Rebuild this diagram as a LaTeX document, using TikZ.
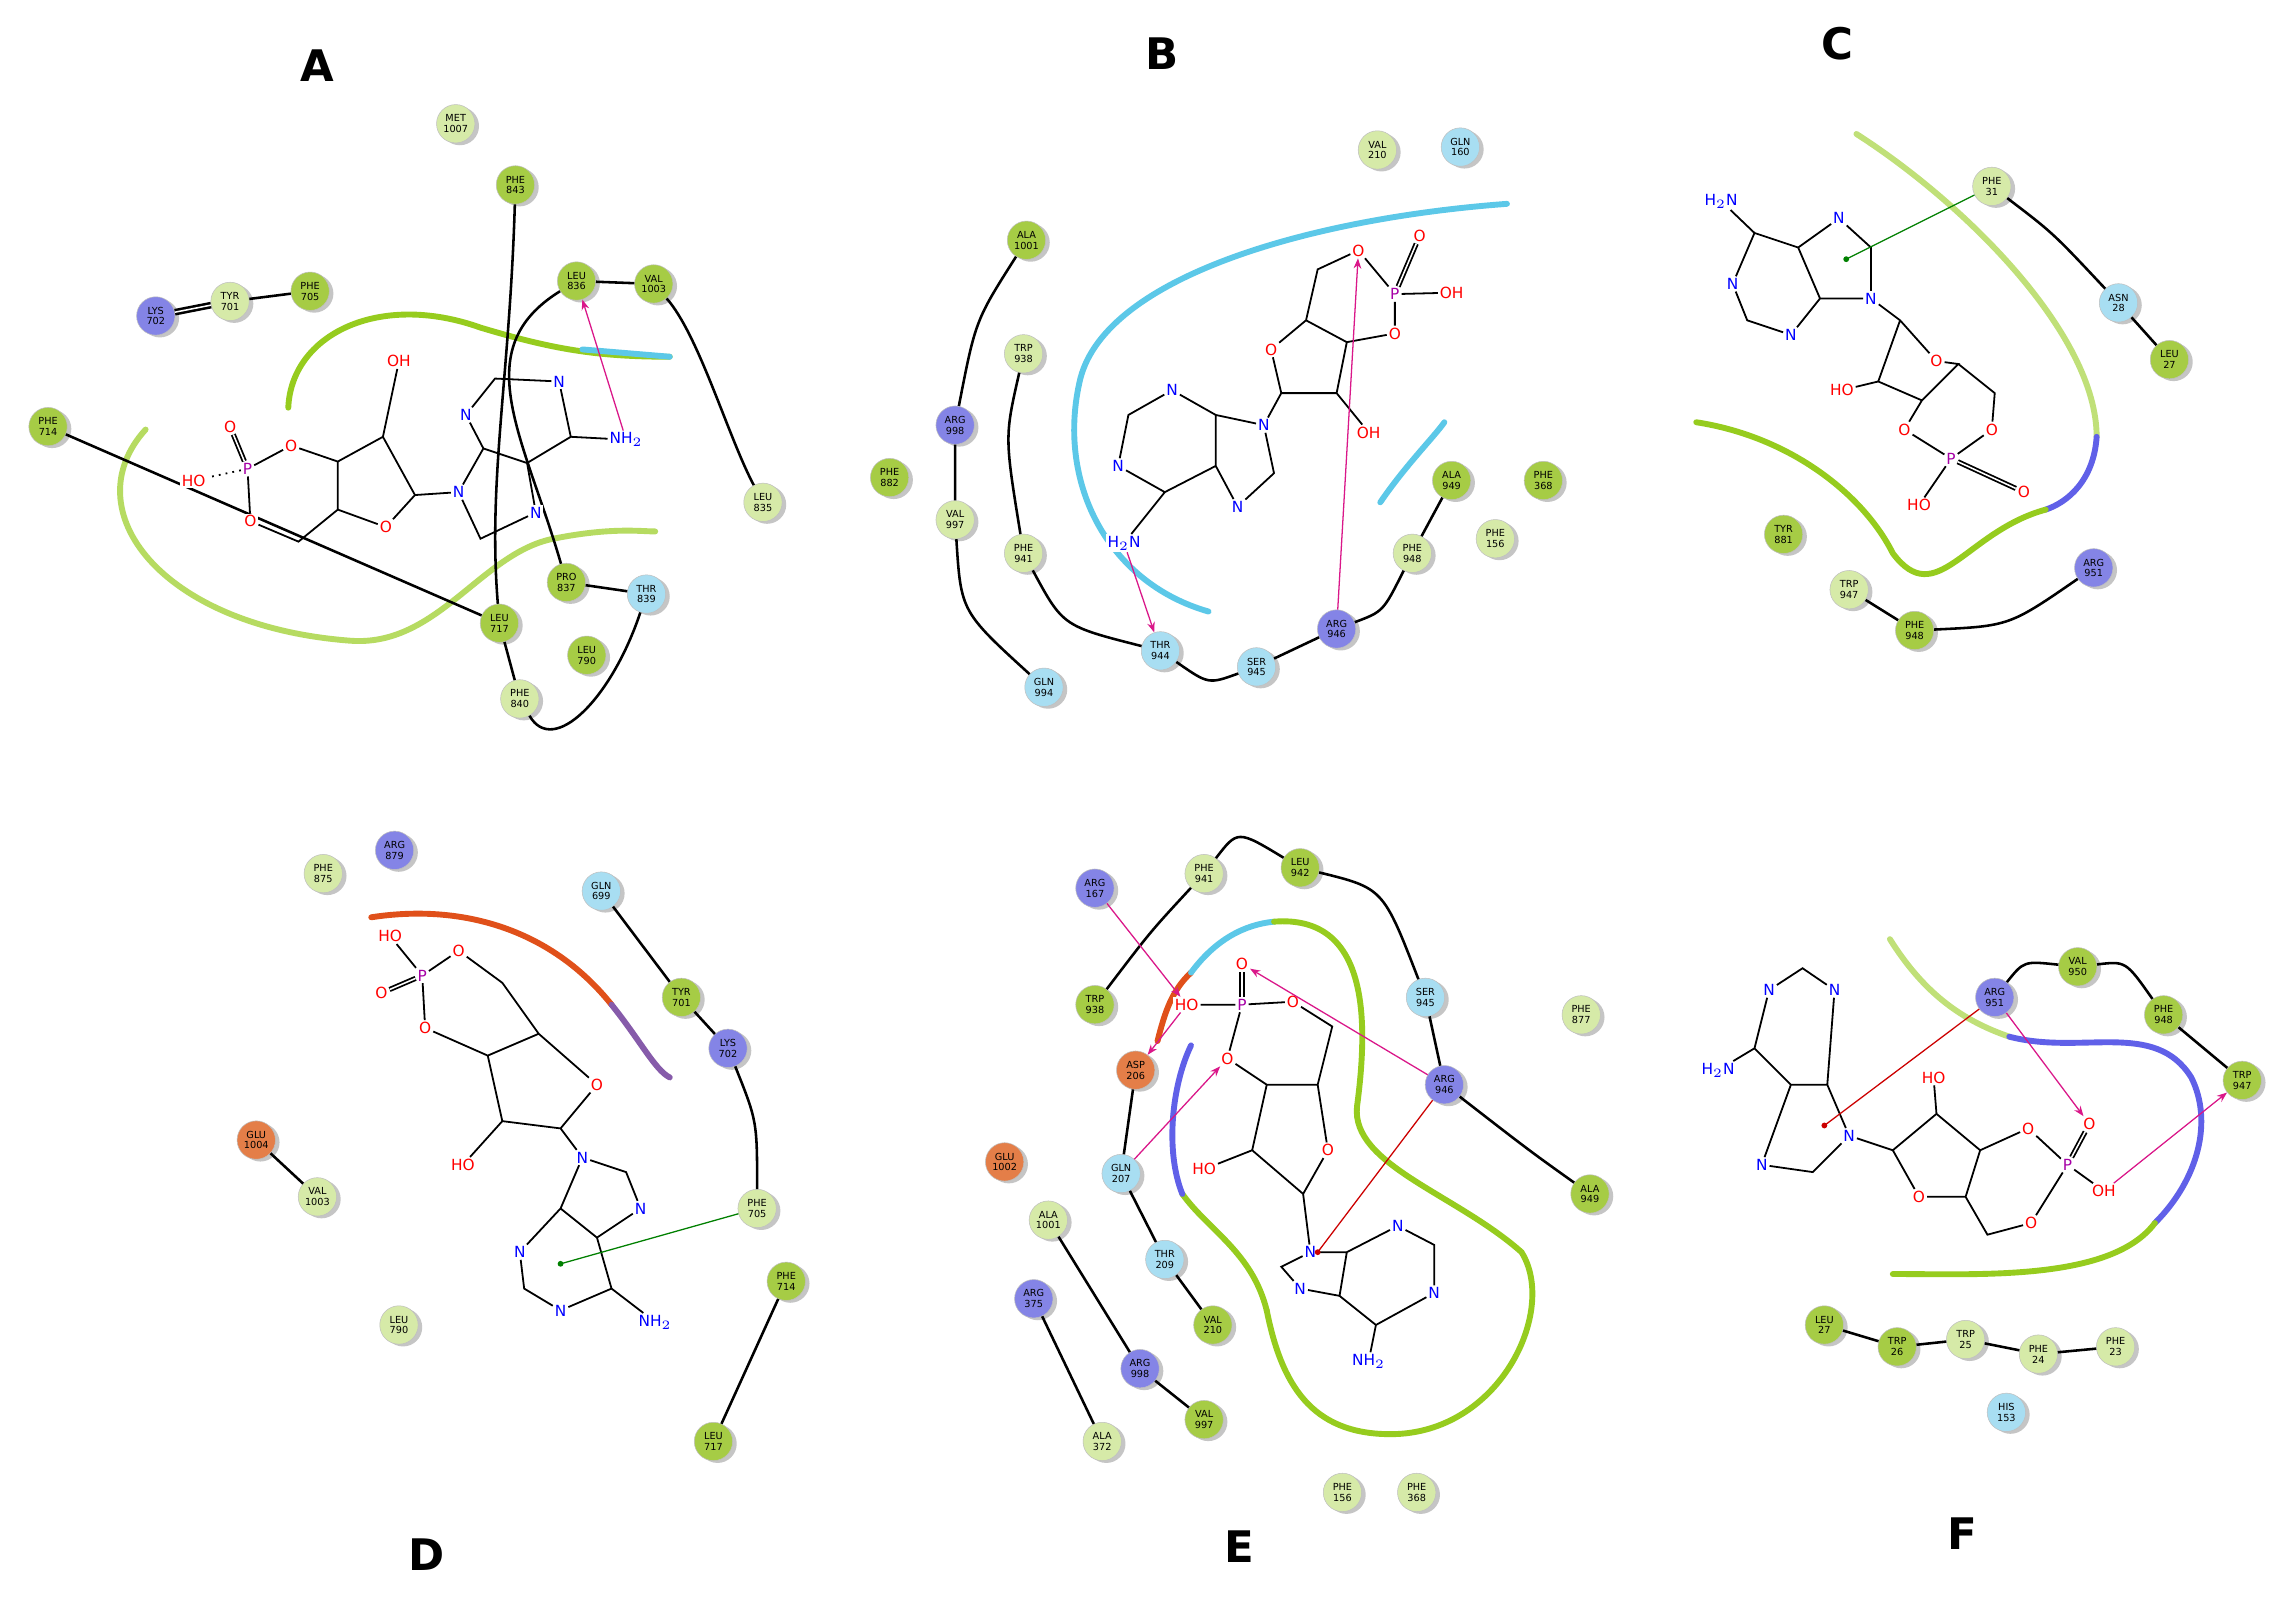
\documentclass[tikz,border=0pt]{standalone}
\usepackage{fontspec}
\setsansfont{DejaVu Sans}
\usetikzlibrary{shadows,arrows.meta}
\definecolor{hyd}{HTML}{A6CC45}
\definecolor{hydl}{HTML}{D6EAA8}
\definecolor{pos}{HTML}{8484E6}
\definecolor{pol}{HTML}{A8DEF2}
\definecolor{neg}{HTML}{E47E48}
\definecolor{lgreen}{HTML}{96CC1E}
\definecolor{lcyan}{HTML}{5CC8E8}
\definecolor{lblue}{HTML}{6060E8}
\definecolor{lorange}{HTML}{E0501A}
\newcommand\rs[5]{\node[res,fill=#3] (#1) at (#2) {#4\\#5};}
\tikzset{
 res/.style={circle,minimum size=15pt,inner sep=0pt,align=center,draw=black!25,line width=0.2pt,
   font=\sffamily\fontsize{3.8}{4.2}\selectfont,
   drop shadow={shadow xshift=1.6pt,shadow yshift=-0.9pt,fill=black!45}},
 chain/.style={line width=1pt,black},
 bond/.style={line width=0.7pt,black},
 atom/.style={font=\sffamily\fontsize{6}{6}\selectfont,inner sep=0.6pt,fill=white},
 red/.style={atom,text=red}, blue/.style={atom,text=blue}, violet/.style={atom,text=violet!70!magenta},
 panel/.style={font=\sffamily\bfseries\fontsize{17}{17}\selectfont},
 hb/.style={-{Stealth[length=4pt]},draw=magenta!80!violet,line width=0.5pt},
 pist/.style={draw=green!50!black,line width=0.5pt},
 cat/.style={draw=red!80!black,line width=0.5pt},
 pock/.style={line width=2.3pt,line cap=round},
}
\begin{document}
\begin{tikzpicture}[x=0.2mm,y=-0.2mm]
\fill[white] (0,0) rectangle (1568,1104);
\useasboundingbox (0,0) rectangle (1568,1104);
% ================= A =================
\node[panel] (lA) at (218,45) {A};
\draw[pock,lgreen] (198,280) .. controls (200,230) and (260,200) .. (330,225) .. controls (380,240) and (410,245) .. (460,245);
\draw[pock,lcyan] (400,240) -- (460,245);
\draw[pock,lgreen!70] (100,295) .. controls (50,350) and (110,430) .. (240,440) .. controls (300,445) and (330,380) .. (380,370) .. controls (420,362) and (440,365) .. (450,365);
\rs{a1}{313,85}{hydl}{MET}{1007}
\rs{a2}{354,127}{hyd}{PHE}{843}
\rs{a3}{107,217}{pos}{LYS}{702}
\rs{a4}{158,207}{hydl}{TYR}{701}
\rs{a5}{213,200}{hyd}{PHE}{705}
\rs{a6}{396,193}{hyd}{LEU}{836}
\rs{a7}{449,195}{hyd}{VAL}{1003}
\rs{a8}{33,293}{hyd}{PHE}{714}
\rs{a9}{524,345}{hydl}{LEU}{835}
\rs{a10}{389,400}{hyd}{PRO}{837}
\rs{a11}{444,408}{pol}{THR}{839}
\rs{a12}{343,428}{hyd}{LEU}{717}
\rs{a13}{403,450}{hyd}{LEU}{790}
\rs{a14}{357,480}{hydl}{PHE}{840}
\draw[chain,double] (a3) -- (a4);
\draw[chain] (a4) -- (a5);
\draw[chain] (a8) -- (a12);
\draw[chain] (a2) .. controls (350,260) and (335,330) .. (a12);
\draw[chain] (a12) -- (a14);
\draw[chain] (a14) .. controls (380,520) and (420,480) .. (a11);
\draw[chain] (a10) -- (a11);
\draw[chain] (a10) .. controls (360,300) and (320,240) .. (a6);
\draw[chain] (a6) -- (a7);
\draw[chain] (a7) .. controls (480,230) and (500,300) .. (a9);
% molecule A
\node[violet] (aP) at (170,322) {P};
\node[red] (aO1) at (158,293) {O};
\node[red] (aHO) at (133,330) {HO};
\node[red] (aO2) at (200,306) {O};
\node[red] (aO3) at (172,358) {O};
\node[red] (aOH) at (274,248) {OH};
\node[red] (aO4) at (265,362) {O};
\node[blue] (aN9) at (315,338) {N};
\node[blue] (aN3) at (320,285) {N};
\node[blue] (aN1) at (384,262) {N};
\node[blue] (aN7) at (368,352) {N};
\node[blue] (aNH) at (430,302) {NH$_2$};
\coordinate (ac3) at (232,317); \coordinate (ac2) at (263,300);
\coordinate (ac1) at (285,340); \coordinate (ac4) at (232,350);
\coordinate (ac5) at (205,372); \coordinate (ac2b) at (340,260);
\coordinate (ac6) at (392,300); \coordinate (ac5b) at (362,318);
\coordinate (ac4b) at (332,308); \coordinate (ac8) at (330,370);
\draw[bond] (aP)--(aO2) (aP)--(aO3) (aO2)--(ac3) (ac3)--(ac2)--(ac1)--(aO4)--(ac4)--(ac3) (ac2)--(aOH)
 (ac1)--(aN9) (ac4)--(ac5)--(aO3) (aN9)--(ac4b)--(aN3)--(ac2b)--(aN1)--(ac6)--(ac5b)--(ac4b) (ac6)--(aNH)
 (ac5b)--(aN7)--(ac8)--(aN9);
\draw[bond,double] (aP)--(aO1);
\draw[bond,dotted] (aP)--(aHO);
\draw[hb] (aNH) -- (a6);
% ================= B =================
\node[panel] (lB) at (798,37) {B};
\draw[pock,lcyan] (1035,140) .. controls (900,150) and (760,190) .. (742,260) .. controls (725,330) and (760,400) .. (830,420);
\draw[pock,lcyan] (948,345) .. controls (965,320) and (985,300) .. (992,290);
\rs{b1}{946,103}{hydl}{VAL}{210}
\rs{b2}{1003,101}{pol}{GLN}{160}
\rs{b3}{705,165}{hyd}{ALA}{1001}
\rs{b4}{703,243}{hydl}{TRP}{938}
\rs{b5}{656,292}{pos}{ARG}{998}
\rs{b6}{611,328}{hyd}{PHE}{882}
\rs{b7}{656,357}{hydl}{VAL}{997}
\rs{b8}{703,380}{hydl}{PHE}{941}
\rs{b9}{797,447}{pol}{THR}{944}
\rs{b10}{863,458}{pol}{SER}{945}
\rs{b11}{918,432}{pos}{ARG}{946}
\rs{b12}{970,380}{hydl}{PHE}{948}
\rs{b13}{997,330}{hyd}{ALA}{949}
\rs{b14}{1060,330}{hyd}{PHE}{368}
\rs{b15}{1027,370}{hydl}{PHE}{156}
\rs{b16}{717,472}{pol}{GLN}{994}
\draw[chain] (b3) .. controls (670,220) .. (b5) -- (b7) .. controls (660,420) .. (b16);
\draw[chain] (b4) .. controls (690,300) .. (b8) .. controls (730,430) .. (b9) .. controls (830,470) .. (b10) -- (b11) .. controls (950,420) .. (b12) -- (b13);
% molecule B
\node[violet] (bP) at (958,202) {P};
\node[red] (bO1) at (975,162) {O};
\node[red] (bOH) at (997,201) {OH};
\node[red] (bO2) at (958,229) {O};
\node[red] (bO3) at (933,172) {O};
\node[red] (bO4) at (873,240) {O};
\node[red] (bOH2) at (940,297) {OH};
\node[blue] (bN9) at (868,292) {N};
\node[blue] (bN3) at (805,268) {N};
\node[blue] (bN1) at (768,320) {N};
\node[blue] (bN7) at (850,348) {N};
\node[blue] (bNH) at (772,373) {H$_2$N};
\coordinate (bc5) at (905,185); \coordinate (bc4) at (897,220); \coordinate (bc3) at (925,235);
\coordinate (bc2) at (918,270); \coordinate (bc1) at (880,270);
\coordinate (bc4b) at (835,285); \coordinate (bc5b) at (835,320); \coordinate (bc2b) at (775,285);
\coordinate (bc6) at (800,338); \coordinate (bc8) at (875,325);
\draw[bond] (bO3)--(bc5)--(bc4)--(bc3)--(bO2)--(bP)--(bO3) (bc4)--(bO4)--(bc1)--(bc2)--(bc3) (bc2)--(bOH2) (bc1)--(bN9)
 (bP)--(bOH) (bN9)--(bc4b)--(bN3)--(bc2b)--(bN1)--(bc6)--(bc5b)--(bc4b) (bc5b)--(bN7)--(bc8)--(bN9) (bc6)--(bNH);
\draw[bond,double] (bP)--(bO1);
\draw[hb] (bNH) -- (b9);
\draw[hb] (b11) -- (bO3);
% ================= C =================
\node[panel] (lC) at (1262,30) {C};
\draw[pock,lgreen!60] (1275,92) .. controls (1350,140) and (1440,230) .. (1440,300);
\draw[pock,lblue] (1440,300) .. controls (1438,330) and (1420,345) .. (1405,350);
\draw[pock,lgreen] (1405,350) .. controls (1350,365) and (1330,420) .. (1300,380) .. controls (1280,340) and (1230,300) .. (1165,290);
\rs{c1}{1368,128}{hydl}{PHE}{31}
\rs{c2}{1455,208}{pol}{ASN}{28}
\rs{c3}{1490,247}{hyd}{LEU}{27}
\rs{c4}{1225,367}{hyd}{TYR}{881}
\rs{c5}{1270,405}{hydl}{TRP}{947}
\rs{c6}{1315,433}{hyd}{PHE}{948}
\rs{c7}{1438,390}{pos}{ARG}{951}
\draw[chain] (c1) .. controls (1410,160) .. (c2) -- (c3);
\draw[chain] (c5) -- (c6) .. controls (1380,430) .. (c7);
% molecule C
\node[blue] (cNH) at (1182,138) {H$_2$N};
\node[blue] (cN7) at (1263,150) {N};
\node[blue] (cN9) at (1285,205) {N};
\node[blue] (cN1) at (1190,195) {N};
\node[blue] (cN3) at (1230,230) {N};
\node[red] (cHO) at (1265,268) {HO};
\node[red] (cO4) at (1330,248) {O};
\node[red] (cO3) at (1308,295) {O};
\node[violet] (cP) at (1340,315) {P};
\node[red] (cO5) at (1368,295) {O};
\node[red] (cHO2) at (1318,347) {HO};
\node[red] (cO) at (1390,338) {O};
\coordinate (cc6) at (1205,160); \coordinate (cc5) at (1235,170); \coordinate (cc4) at (1250,205);
\coordinate (cc2) at (1200,220); \coordinate (cc8) at (1285,170);
\coordinate (cc1) at (1305,220); \coordinate (cc2r) at (1290,262); \coordinate (cc3) at (1320,275);
\coordinate (cc4r) at (1345,250); \coordinate (cc5r) at (1370,270);
\draw[bond] (cNH)--(cc6)--(cc5)--(cc4)--(cN3)--(cc2)--(cN1)--(cc6) (cc5)--(cN7)--(cc8)--(cN9)--(cc4)
 (cN9)--(cc1)--(cO4)--(cc4r)--(cc3)--(cc2r)--(cc1) (cc2r)--(cHO) (cc3)--(cO3)--(cP)--(cO5)--(cc5r)--(cc4r) (cP)--(cHO2);
\draw[bond,double] (cP)--(cO);
\coordinate (cRc) at (1268,178);
\draw[pist] (c1) -- (cRc); \fill[green!50!black] (cRc) circle (2);
% ================= D =================
\node[panel] (lD) at (293,1068) {D};
\draw[pock,lorange] (255,630) .. controls (320,620) and (380,640) .. (420,690);
\draw[pock,lblue!70!lorange] (420,690) .. controls (440,715) and (450,735) .. (460,740);
\rs{d1}{222,600}{hydl}{PHE}{875}
\rs{d2}{271,584}{pos}{ARG}{879}
\rs{d3}{413,612}{pol}{GLN}{699}
\rs{d4}{468,685}{hyd}{TYR}{701}
\rs{d5}{500,720}{pos}{LYS}{702}
\rs{d6}{176,783}{neg}{GLU}{1004}
\rs{d7}{218,822}{hydl}{VAL}{1003}
\rs{d8}{520,830}{hydl}{PHE}{705}
\rs{d9}{274,910}{hydl}{LEU}{790}
\rs{d10}{540,880}{hyd}{PHE}{714}
\rs{d11}{490,990}{hyd}{LEU}{717}
\draw[chain] (d3) -- (d4) -- (d5) .. controls (520,770) .. (d8);
\draw[chain] (d6) -- (d7);
\draw[chain] (d10) -- (d11);
% molecule D
\node[red] (dHO) at (268,643) {HO};
\node[violet] (dP) at (290,670) {P};
\node[red] (dO) at (262,682) {O};
\node[red] (dO1) at (315,653) {O};
\node[red] (dO2) at (292,706) {O};
\node[red] (dO4) at (410,745) {O};
\node[red] (dHO2) at (318,800) {HO};
\node[blue] (dN9) at (400,795) {N};
\node[blue] (dN7) at (440,830) {N};
\node[blue] (dN3) at (357,860) {N};
\node[blue] (dN1) at (385,900) {N};
\node[blue] (dNH) at (450,908) {NH$_2$};
\coordinate (dc5) at (345,675); \coordinate (dc4) at (370,710); \coordinate (dc3) at (335,725);
\coordinate (dc2) at (345,770); \coordinate (dc1) at (385,775);
\coordinate (dc4b) at (385,830); \coordinate (dc5b) at (410,850); \coordinate (dc2b) at (360,885);
\coordinate (dc6) at (420,885); \coordinate (dc8) at (430,805);
\draw[bond] (dHO)--(dP)--(dO1)--(dc5)--(dc4)--(dc3)--(dO2)--(dP) (dc4)--(dO4)--(dc1)--(dc2)--(dc3) (dc2)--(dHO2) (dc1)--(dN9)
 (dN9)--(dc4b)--(dN3)--(dc2b)--(dN1)--(dc6)--(dc5b)--(dc4b) (dc5b)--(dN7)--(dc8)--(dN9) (dc6)--(dNH);
\draw[bond,double] (dP)--(dO);
\coordinate (dRc) at (385,868);
\draw[pist] (d8) -- (dRc); \fill[green!50!black] (dRc) circle (2);
% ================= E =================
\node[panel] (lE) at (851,1062) {E};
\draw[pock,lorange] (795,715) .. controls (800,695) and (805,680) .. (818,668);
\draw[pock,lcyan] (818,668) .. controls (835,645) and (855,635) .. (875,633);
\draw[pock,lgreen] (875,633) .. controls (940,628) and (940,700) .. (932,760) .. controls (928,800) and (1000,820) .. (1045,860) .. controls (1070,900) and (1030,985) .. (955,985) .. controls (900,985) and (880,950) .. (870,900);
\draw[pock,lgreen] (870,900) .. controls (860,860) and (830,845) .. (812,820);
\draw[pock,lblue] (812,820) .. controls (800,790) and (805,745) .. (818,718);
\rs{e1}{752,610}{pos}{ARG}{167}
\rs{e2}{827,600}{hydl}{PHE}{941}
\rs{e3}{893,596}{hyd}{LEU}{942}
\rs{e4}{752,690}{hyd}{TRP}{938}
\rs{e5}{780,735}{neg}{ASP}{206}
\rs{e6}{979,685}{pol}{SER}{945}
\rs{e7}{1086,697}{hydl}{PHE}{877}
\rs{e8}{992,745}{pos}{ARG}{946}
\rs{e9}{770,806}{pol}{GLN}{207}
\rs{e10}{690,798}{neg}{GLU}{1002}
\rs{e11}{720,838}{hydl}{ALA}{1001}
\rs{e12}{800,865}{pol}{THR}{209}
\rs{e13}{1092,820}{hyd}{ALA}{949}
\rs{e14}{710,892}{pos}{ARG}{375}
\rs{e15}{833,910}{hyd}{VAL}{210}
\rs{e16}{783,940}{pos}{ARG}{998}
\rs{e17}{827,975}{hyd}{VAL}{997}
\rs{e18}{757,990}{hydl}{ALA}{372}
\rs{e19}{922,1025}{hydl}{PHE}{156}
\rs{e20}{973,1025}{hydl}{PHE}{368}
\draw[chain] (e4) .. controls (790,640) .. (e2) .. controls (850,570) .. (e3) .. controls (950,610) .. (e6) -- (e8) .. controls (1050,790) .. (e13);
\draw[chain] (e5) -- (e9) -- (e12) -- (e15);
\draw[chain] (e11) -- (e16) -- (e17);
\draw[chain] (e14) -- (e18);
% molecule E
\node[red] (eHO) at (815,690) {HO};
\node[violet] (eP) at (853,690) {P};
\node[red] (eO) at (853,662) {O};
\node[red] (eO1) at (888,688) {O};
\node[red] (eO2) at (843,727) {O};
\node[red] (eO4) at (912,790) {O};
\node[red] (eHO2) at (827,803) {HO};
\node[blue] (eN9) at (900,860) {N};
\node[blue] (eN7) at (893,885) {N};
\node[blue] (eN3) at (960,842) {N};
\node[blue] (eN1) at (985,888) {N};
\node[blue] (eNH) at (940,935) {NH$_2$};
\coordinate (ec5) at (915,705); \coordinate (ec4) at (905,745); \coordinate (ec3) at (870,745);
\coordinate (ec2) at (860,790); \coordinate (ec1) at (895,820);
\coordinate (ec4b) at (925,860); \coordinate (ec5b) at (920,890); \coordinate (ec2b) at (985,855);
\coordinate (ec6) at (945,910); \coordinate (ec8) at (880,870);
\draw[bond] (eHO)--(eP)--(eO1)--(ec5)--(ec4)--(ec3)--(eO2)--(eP) (ec4)--(eO4)--(ec1)--(ec2)--(ec3) (ec2)--(eHO2) (ec1)--(eN9)
 (eN9)--(ec4b)--(eN3)--(ec2b)--(eN1)--(ec6)--(ec5b)--(ec4b) (ec5b)--(eN7)--(ec8)--(eN9) (ec6)--(eNH);
\draw[bond,double] (eP)--(eO);
\draw[hb] (e1) -- (eHO);
\draw[hb] (e9) -- (eO2);
\draw[hb] (eHO) -- (e5);
\draw[hb] (e8) -- (eO);
\coordinate (eRc) at (905,860);
\draw[cat] (e8) -- (eRc); \fill[red!80!black] (eRc) circle (2);
% ================= F =================
\node[panel] (lF) at (1348,1053) {F};
\draw[pock,lgreen!60] (1298,645) .. controls (1320,680) and (1345,700) .. (1380,712);
\draw[pock,lblue] (1380,712) .. controls (1430,725) and (1480,700) .. (1505,740) .. controls (1520,770) and (1510,810) .. (1480,840);
\draw[pock,lgreen] (1480,840) .. controls (1450,880) and (1360,875) .. (1300,875);
\rs{f1}{1370,685}{pos}{ARG}{951}
\rs{f2}{1427,664}{hyd}{VAL}{950}
\rs{f3}{1486,697}{hyd}{PHE}{948}
\rs{f4}{1540,742}{hyd}{TRP}{947}
\rs{f5}{1253,910}{hyd}{LEU}{27}
\rs{f6}{1303,925}{hyd}{TRP}{26}
\rs{f7}{1350,920}{hydl}{TRP}{25}
\rs{f8}{1400,930}{hydl}{PHE}{24}
\rs{f9}{1453,925}{hydl}{PHE}{23}
\rs{f10}{1378,970}{pol}{HIS}{153}
\draw[chain] (f1) .. controls (1390,660) .. (f2) .. controls (1460,660) .. (f3) -- (f4);
\draw[chain] (f5) -- (f6) -- (f7) -- (f8) -- (f9);
% molecule F
\node[blue] (fNH) at (1180,735) {H$_2$N};
\node[blue] (fN1) at (1215,680) {N};
\node[blue] (fN3) at (1260,680) {N};
\node[blue] (fN7) at (1210,800) {N};
\node[blue] (fN9) at (1270,780) {N};
\node[red] (fHO) at (1328,740) {HO};
\node[red] (fO4) at (1318,822) {O};
\node[red] (fO3) at (1393,775) {O};
\node[violet] (fP) at (1420,800) {P};
\node[red] (fO) at (1435,772) {O};
\node[red] (fOH) at (1445,818) {OH};
\node[red] (fO5) at (1395,840) {O};
\coordinate (fc6) at (1205,720); \coordinate (fc5) at (1230,745); \coordinate (fc4) at (1255,745);
\coordinate (fc2) at (1238,665); \coordinate (fc8) at (1245,805);
\coordinate (fc1) at (1300,790); \coordinate (fc2r) at (1330,765); \coordinate (fc3) at (1360,790);
\coordinate (fc4r) at (1350,822); \coordinate (fc5r) at (1365,848);
\draw[bond] (fNH)--(fc6)--(fN1)--(fc2)--(fN3)--(fc4)--(fc5)--(fc6) (fc5)--(fN7)--(fc8)--(fN9)--(fc4)
 (fN9)--(fc1)--(fc2r)--(fc3)--(fc4r)--(fO4)--(fc1) (fc2r)--(fHO) (fc3)--(fO3)--(fP)--(fO5)--(fc5r)--(fc4r) (fP)--(fOH);
\draw[bond,double] (fP)--(fO);
\draw[hb] (f1) -- (fO);
\draw[hb] (fOH) -- (f4);
\coordinate (fRc) at (1253,773);
\draw[cat] (f1) -- (fRc); \fill[red!80!black] (fRc) circle (2);
\end{tikzpicture}
\end{document}
